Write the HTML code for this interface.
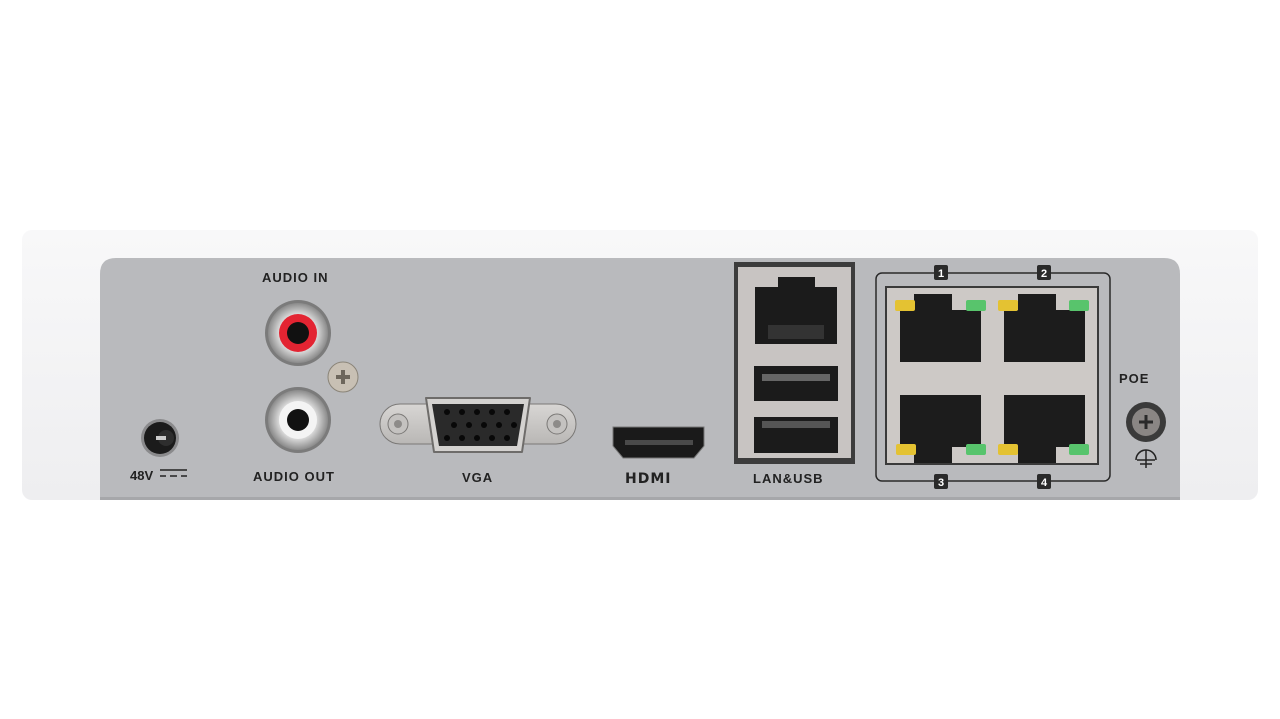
<!DOCTYPE html>
<html><head><meta charset="utf-8"><style>
html,body{margin:0;padding:0;background:#fff;width:1280px;height:719px;overflow:hidden}
svg{display:block}
text{font-family:"Liberation Sans",sans-serif;fill:#222;font-weight:bold}
</style></head><body>
<svg width="1280" height="719" viewBox="0 0 1280 719">
<defs>
<linearGradient id="body" x1="0" y1="0" x2="0" y2="1"><stop offset="0" stop-color="#f8f8f9"/><stop offset="1" stop-color="#eeeef0"/></linearGradient>
<linearGradient id="met" x1="0" y1="0" x2="0" y2="1"><stop offset="0" stop-color="#d8d6d4"/><stop offset="1" stop-color="#b9b7b5"/></linearGradient>
<radialGradient id="rca"><stop offset="0.6" stop-color="#e0e0e0"/><stop offset="1" stop-color="#8a8a8a"/></radialGradient>
</defs>
<rect x="22" y="230" width="1236" height="270" rx="10" fill="url(#body)"/>
<path d="M100 500 V274 Q100 258 116 258 H1164 Q1180 258 1180 274 V500 Z" fill="#b9babd"/>
<rect x="100" y="497" width="1080" height="3" fill="#a6a7aa"/>
<!-- power -->
<circle cx="160" cy="438" r="19" fill="#8a8a8c"/><circle cx="160" cy="438" r="16" fill="#1b1b1b"/>
<circle cx="166" cy="438" r="8" fill="#2e2e2e"/><rect x="156" y="436" width="10" height="4" fill="#ccc"/>
<text x="130" y="480" font-size="13">48V</text>
<g stroke="#222" stroke-width="1.5"><line x1="160" y1="470" x2="187" y2="470"/><line x1="160" y1="476" x2="166" y2="476"/><line x1="170" y1="476" x2="177" y2="476"/><line x1="181" y1="476" x2="187" y2="476"/></g>
<!-- audio -->
<text x="262" y="282" font-size="13" letter-spacing="1">AUDIO  IN</text>
<circle cx="298" cy="333" r="33" fill="#7b7b7b"/><circle cx="298" cy="333" r="30" fill="url(#rca)"/>
<circle cx="298" cy="333" r="19" fill="#e32432"/><circle cx="298" cy="333" r="11" fill="#111"/>
<circle cx="298" cy="420" r="33" fill="#7b7b7b"/><circle cx="298" cy="420" r="30" fill="url(#rca)"/>
<circle cx="298" cy="420" r="19" fill="#f4f4f4"/><circle cx="298" cy="420" r="11" fill="#111"/>
<circle cx="343" cy="377" r="15" fill="#c8c0b4" stroke="#8a8478"/><path d="M336 377h14M343 370v14" stroke="#6d665c" stroke-width="4"/>
<text x="253" y="481" font-size="13" letter-spacing="1">AUDIO OUT</text>
<!-- VGA -->
<rect x="380" y="404" width="196" height="40" rx="20" fill="url(#met)" stroke="#7a7876"/>
<circle cx="398" cy="424" r="10" fill="#c4c2c0" stroke="#7a7876"/><circle cx="398" cy="424" r="4" fill="#8d8b89"/>
<circle cx="557" cy="424" r="10" fill="#c4c2c0" stroke="#7a7876"/><circle cx="557" cy="424" r="4" fill="#8d8b89"/>
<path d="M426 398 H530 L522 452 H434 Z" fill="#d4d2d0" stroke="#6e6c6a" stroke-width="2" stroke-linejoin="round"/>
<path d="M432 404 H524 L517 446 H439 Z" fill="#2a2a2a" stroke-linejoin="round"/>
<g fill="#080808">
<circle cx="447" cy="412" r="3"/><circle cx="462" cy="412" r="3"/><circle cx="477" cy="412" r="3"/><circle cx="492" cy="412" r="3"/><circle cx="507" cy="412" r="3"/>
<circle cx="454" cy="425" r="3"/><circle cx="469" cy="425" r="3"/><circle cx="484" cy="425" r="3"/><circle cx="499" cy="425" r="3"/><circle cx="514" cy="425" r="3"/>
<circle cx="447" cy="438" r="3"/><circle cx="462" cy="438" r="3"/><circle cx="477" cy="438" r="3"/><circle cx="492" cy="438" r="3"/><circle cx="507" cy="438" r="3"/>
</g>
<text x="462" y="482" font-size="13" letter-spacing="1">VGA</text>
<!-- HDMI -->
<path d="M613 427 H704 V446 L694 458 H623 L613 446 Z" fill="#1a1a1a" stroke="#777"/>
<rect x="625" y="440" width="68" height="5" fill="#4a4a4a"/>
<text x="625" y="483" font-size="14" font-weight="900" letter-spacing="1" style="font-family:'DejaVu Sans',sans-serif">HDMI</text>
<!-- LAN USB -->
<rect x="734" y="262" width="121" height="202" fill="#3c3c3c"/>
<rect x="738" y="267" width="113" height="191" fill="#c8c4c2"/>
<path d="M755 287 H778 V277 H815 V287 H837 V344 H755 Z" fill="#1b1b1b"/>
<rect x="768" y="325" width="56" height="14" fill="#333"/>
<rect x="754" y="366" width="84" height="35" fill="#1b1b1b"/><rect x="762" y="374" width="68" height="7" fill="#666"/>
<rect x="754" y="417" width="84" height="36" fill="#1b1b1b"/><rect x="762" y="421" width="68" height="7" fill="#555"/>
<text x="753" y="483" font-size="13" letter-spacing="1">LAN&amp;USB</text>
<!-- PoE -->
<rect x="876" y="273" width="234" height="208" rx="6" fill="none" stroke="#2a2a2a" stroke-width="1.5"/>
<rect x="885" y="286" width="214" height="179" fill="#3a3a3a"/>
<rect x="887" y="288" width="210" height="175" fill="#cdc9c6"/>
<g fill="#1c1c1c">
<path d="M900 310 H914 V294 H952 V310 H981 V362 H900 Z"/>
<path d="M1004 310 H1018 V294 H1056 V310 H1085 V362 H1004 Z"/>
<path d="M900 395 H981 V447 H952 V463 H914 V447 H900 Z"/>
<path d="M1004 395 H1085 V447 H1056 V463 H1018 V447 H1004 Z"/>
</g>
<g fill="#e4c232"><rect x="895" y="300" width="20" height="11" rx="2"/><rect x="998" y="300" width="20" height="11" rx="2"/><rect x="896" y="444" width="20" height="11" rx="2"/><rect x="998" y="444" width="20" height="11" rx="2"/></g>
<g fill="#58c46c"><rect x="966" y="300" width="20" height="11" rx="2"/><rect x="1069" y="300" width="20" height="11" rx="2"/><rect x="966" y="444" width="20" height="11" rx="2"/><rect x="1069" y="444" width="20" height="11" rx="2"/></g>
<g><rect x="934" y="265" width="14" height="15" rx="2" fill="#2a2a2a"/><text x="941" y="277" font-size="11" text-anchor="middle" style="fill:#fff">1</text>
<rect x="1037" y="265" width="14" height="15" rx="2" fill="#2a2a2a"/><text x="1044" y="277" font-size="11" text-anchor="middle" style="fill:#fff">2</text>
<rect x="934" y="474" width="14" height="15" rx="2" fill="#2a2a2a"/><text x="941" y="486" font-size="11" text-anchor="middle" style="fill:#fff">3</text>
<rect x="1037" y="474" width="14" height="15" rx="2" fill="#2a2a2a"/><text x="1044" y="486" font-size="11" text-anchor="middle" style="fill:#fff">4</text></g>
<text x="1119" y="383" font-size="13" letter-spacing="1">POE</text>
<circle cx="1146" cy="422" r="20" fill="#3a3a3a"/><circle cx="1146" cy="422" r="14" fill="#8a8684"/>
<path d="M1139 422h14M1146 415v14" stroke="#2a2a2a" stroke-width="3"/>
<g stroke="#222" stroke-width="1.5" fill="none"><path d="M1136 460 a10 10 0 0 1 20 0"/><line x1="1146" y1="450" x2="1146" y2="468"/><line x1="1137" y1="460" x2="1155" y2="460"/><line x1="1140" y1="464" x2="1152" y2="464"/></g>
</svg>
</body></html>
